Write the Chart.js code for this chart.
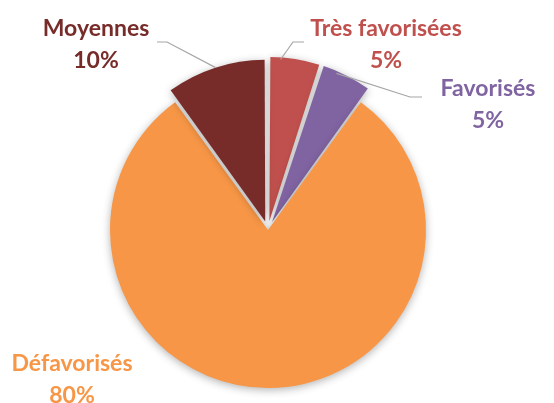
<!DOCTYPE html>
<html lang="fr">
<head>
<meta charset="UTF-8">
<title>Répartition</title>
<script src="https://cdn.jsdelivr.net/npm/chart.js"></script>
<style>
  body { margin: 0; background: #ffffff; }
  #wrap { width: 554px; height: 403px; }
</style>
</head>
<body>
<div id="wrap"><canvas id="pie" width="554" height="403"></canvas></div>
<script>
// data
const categories = ['Très favorisées', 'Favorisés', 'Défavorisés', 'Moyennes'];
const shares = [5, 5, 80, 10];
const percentLabels = ['5%', '5%', '80%', '10%'];
const sliceColors = ['#C0504D', '#8064A2', '#F79646', '#772C2A'];
const sliceOffsets = [36, 36, 0, 36];

// where each label sits, and the leader line (label end -> elbow -> slice edge)
const labelLayout = [
    { x: 386, y: 36, line: [[304, 42], [293, 42]], anchor: 0.22 },
    { x: 488, y: 96, line: [[422, 97], [410, 97]], anchor: 0.3 },
    { x: 72, y: 371, line: null },
    { x: 96, y: 36, line: [[157, 42], [167, 42]], anchor: 0.5 }
];
const labelFont = 'bold 23px Lato, "Open Sans", sans-serif';
const lineGap = 32;

const shadowPlugin = {
    id: 'pieShadow',
    beforeDatasetsDraw(chart) {
        const ctx = chart.ctx;
        ctx.save();
        ctx.shadowColor = 'rgba(0,0,0,0.3)';
        ctx.shadowBlur = 8;
        ctx.shadowOffsetY = 2;
    },
    afterDatasetsDraw(chart) {
        chart.ctx.restore();
    }
};

const labelPlugin = {
    id: 'outsideLabels',
    afterDraw(chart) {
        const ctx = chart.ctx;
        const arcs = chart.getDatasetMeta(0).data;
        ctx.save();
        arcs.forEach((arc, i) => {
            const lay = labelLayout[i];
            if (lay.line) {
                const p = arc.getProps(['x', 'y', 'startAngle', 'endAngle', 'outerRadius'], true);
                const off = sliceOffsets[i] / 4;
                const mid = (p.startAngle + p.endAngle) / 2;
                const a = p.startAngle + (p.endAngle - p.startAngle) * lay.anchor;
                const ox = p.x + Math.cos(mid) * off;
                const oy = p.y + Math.sin(mid) * off;
                const r = p.outerRadius + 4;
                const ex = ox + Math.cos(a) * r;
                const ey = oy + Math.sin(a) * r;
                ctx.strokeStyle = '#a6a6a6';
                ctx.lineWidth = 1.2;
                ctx.beginPath();
                ctx.moveTo(lay.line[0][0], lay.line[0][1]);
                ctx.lineTo(lay.line[1][0], lay.line[1][1]);
                ctx.lineTo(ex, ey);
                ctx.stroke();
            }
            ctx.fillStyle = sliceColors[i];
            ctx.font = labelFont;
            ctx.textAlign = 'center';
            ctx.textBaseline = 'alphabetic';
            ctx.fillText(categories[i], lay.x, lay.y);
            ctx.fillText(percentLabels[i], lay.x, lay.y + lineGap);
        });
        ctx.restore();
    }
};

new Chart(document.getElementById('pie'), {
    type: 'pie',
    data: {
        labels: categories,
        datasets: [{
            data: shares,
            backgroundColor: sliceColors,
            borderWidth: 0,
            offset: sliceOffsets
        }]
    },
    options: {
        responsive: false,
        animation: false,
        radius: 158,
        layout: { padding: { top: 57, bottom: 0, left: 0, right: 18 } },
        plugins: {
            legend: { display: false },
            tooltip: { enabled: false }
        }
    },
    plugins: [shadowPlugin, labelPlugin]
});
</script>
</body>
</html>
